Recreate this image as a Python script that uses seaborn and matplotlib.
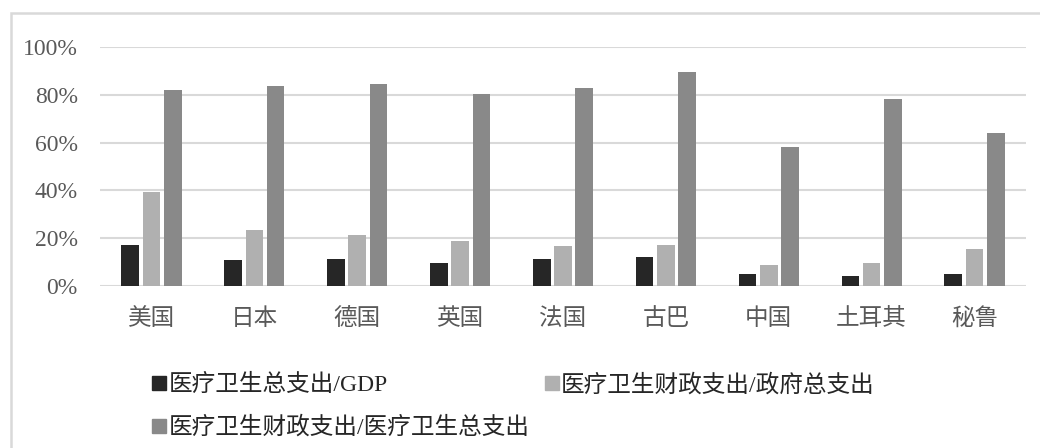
import numpy as np
import pandas as pd
import seaborn as sns
import matplotlib.pyplot as plt
from matplotlib.lines import Line2D
from matplotlib.patches import Rectangle
from matplotlib.ticker import PercentFormatter

countries = ['美国', '日本', '德国', '英国', '法国', '古巴', '中国', '土耳其', '秘鲁']
series_names = ['医疗卫生总支出/GDP', '医疗卫生财政支出/政府总支出', '医疗卫生财政支出/医疗卫生总支出']
total_gdp = [17.0, 10.8, 11.5, 9.6, 11.5, 12.1, 4.9, 4.3, 5.2]
gov_share_of_gov = [39.3, 23.3, 21.2, 19.0, 16.9, 17.0, 8.9, 9.6, 15.6]
gov_share_of_total = [81.9, 83.6, 84.7, 80.2, 82.8, 89.7, 58.0, 78.4, 64.0]
colors = ['#262626', '#b0b0b0', '#898989']
y_ticks = [0, 0.2, 0.4, 0.6, 0.8, 1.0]

df = pd.DataFrame({'country': countries * 3,
                   'series': np.repeat(series_names, len(countries)),
                   'value': np.array(total_gdp + gov_share_of_gov + gov_share_of_total) / 100})

sns.set_style('white')
plt.rcParams['font.family'] = ['Liberation Serif', 'Noto Sans CJK SC']

fig = plt.figure(figsize=(10.4, 4.48), dpi=100)
ax = fig.add_axes([100 / 1040, 1 - 286 / 448, 926 / 1040, 239 / 448])

sns.barplot(data=df, x='country', y='value', hue='series', order=countries,
            hue_order=series_names, palette=colors, width=0.62, gap=0.17,
            edgecolor='none', legend=False, ax=ax, zorder=3)

ax.set_xlim(-0.5, len(countries) - 0.5)
ax.set_ylim(0, 1.0)
ax.set_yticks(y_ticks)
ax.yaxis.set_major_formatter(PercentFormatter(1.0, decimals=0))
ax.grid(axis='y', color='#d9d9d9', lw=1.5, zorder=0)
ax.set_xlabel('')
ax.set_ylabel('')
for s in ax.spines.values():
    s.set_visible(False)
ax.tick_params(axis='both', length=0, labelsize=17, labelcolor='#595959')
ax.tick_params(axis='x', pad=16)
ax.tick_params(axis='y', pad=16)

# legend fills row by row in the reference: 1, 2 on top, 3 below
handles = [Line2D([], [], marker='s', ls='none', markersize=10, color=c) for c in colors]
order = [0, 2, 1]
fig.legend([handles[i] for i in order], [series_names[i] for i in order],
           loc='upper left', bbox_to_anchor=(140 / 1040, 1 - 362 / 448),
           ncol=2, frameon=False, fontsize=17, handlelength=0.6, handletextpad=0.1,
           columnspacing=0.65, labelspacing=0.85, borderpad=0, labelcolor='#262626')

# light frame around the chart area
fig.add_artist(Rectangle((11 / 1040, -0.1), 1.2, 1 - 13 / 448 + 0.1, transform=fig.transFigure,
                         fill=False, ec='#d9d9d9', lw=1.8))

fig.savefig('out.png', dpi=100)
